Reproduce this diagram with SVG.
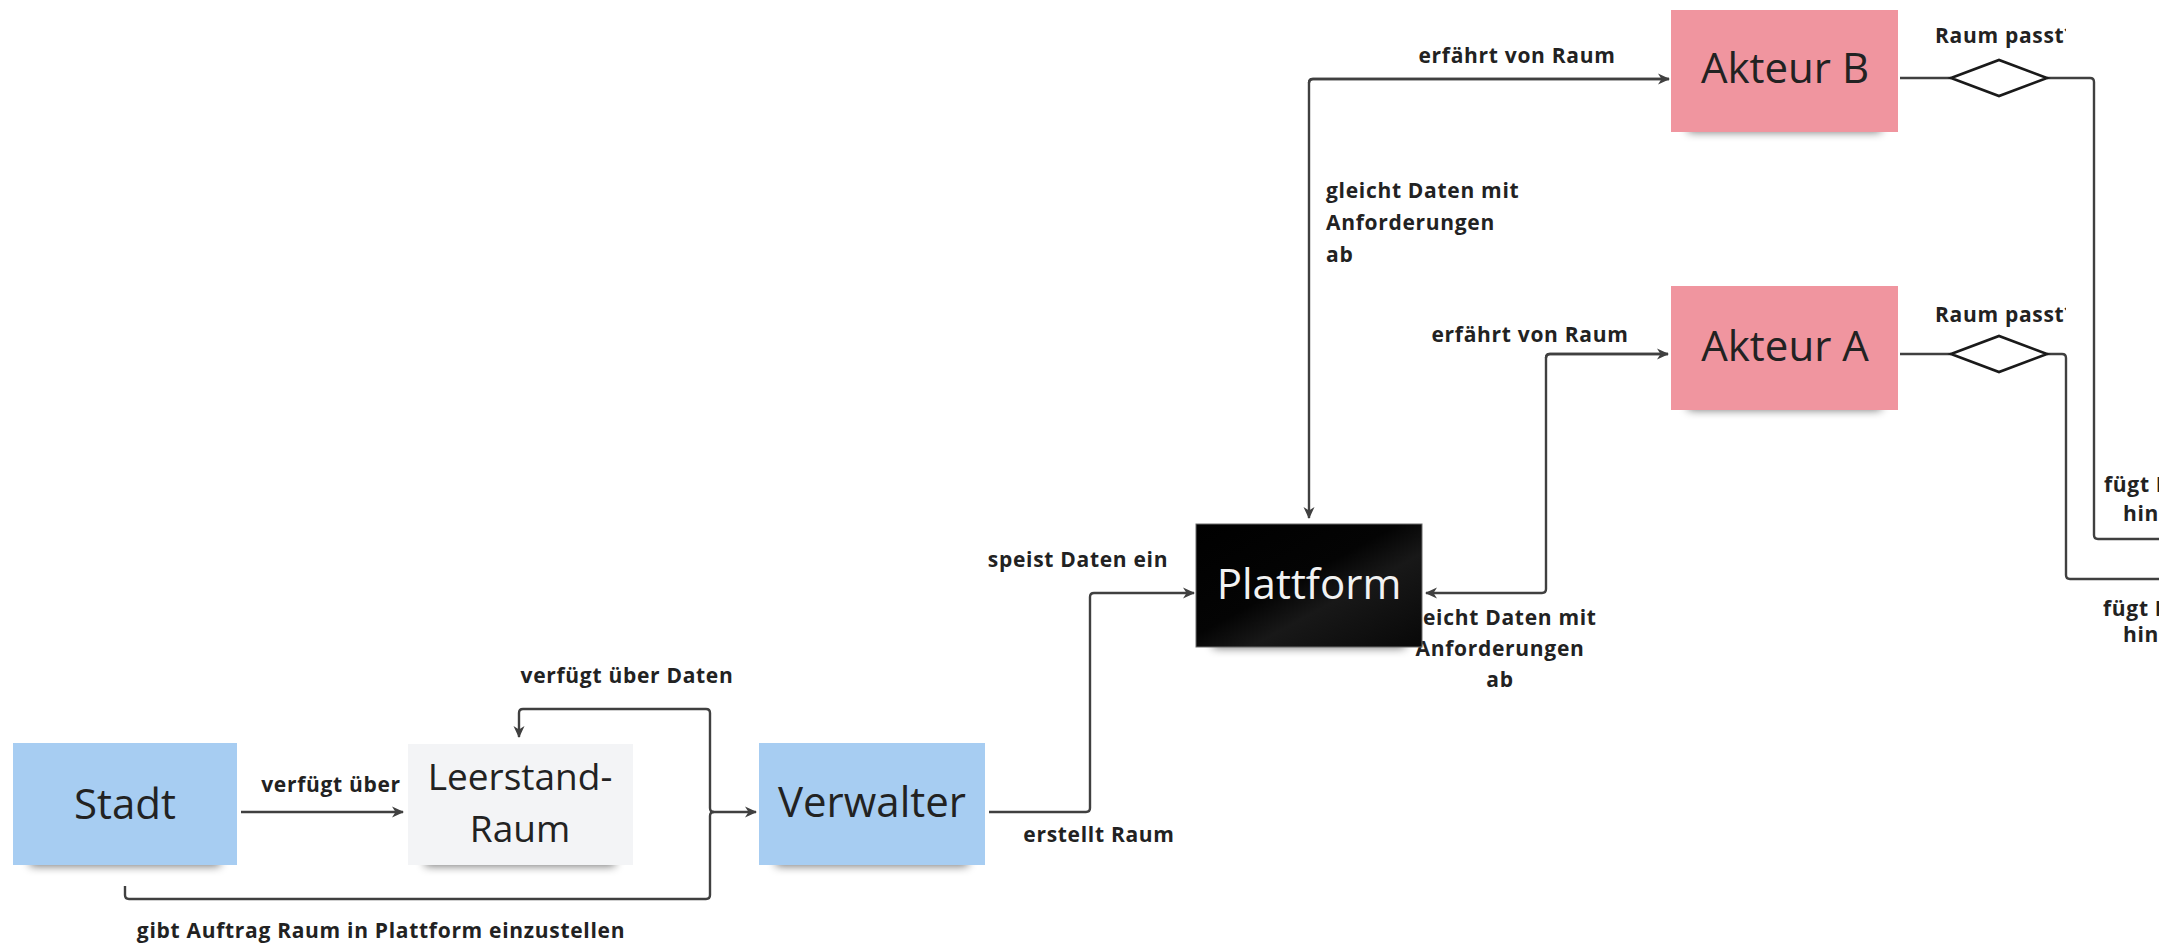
<svg xmlns="http://www.w3.org/2000/svg" width="2159" height="949" viewBox="0 0 2159 949">
  <style>
    .node-text { font-family: "Open Sans", "Liberation Sans", sans-serif; font-size: 42px; font-weight: 400; fill: #222222; text-anchor: middle; }
    .small-node { font-size: 37px; }
    .lbl { font-family: "Open Sans", "Liberation Sans", sans-serif; font-size: 21px; font-weight: 700; fill: #222222; letter-spacing: 0.7px; }
    .mid { text-anchor: middle; }
    .conn { fill: none; stroke: #404040; stroke-width: 2.4; stroke-linejoin: round; }
    .dia { fill: #ffffff; stroke: #1a1a1a; stroke-width: 2.6; }
    .shadow { fill: #000000; opacity: 0.55; filter: url(#blur); }
  </style>
  <defs>
    <filter id="blur" x="-20%" y="-100%" width="140%" height="300%">
      <feGaussianBlur stdDeviation="5"/>
    </filter>
    <marker id="arrow" viewBox="0 0 12 12" markerWidth="12" markerHeight="12" refX="11" refY="6" orient="auto" markerUnits="userSpaceOnUse">
      <path d="M0,0.5 L12,6 L0,11.5 L3.5,6 z" fill="#404040"/>
    </marker>
    <linearGradient id="plat" x1="0" y1="0" x2="1" y2="1">
      <stop offset="0" stop-color="#000000"/>
      <stop offset="0.45" stop-color="#040404"/>
      <stop offset="0.62" stop-color="#181818"/>
      <stop offset="1" stop-color="#080808"/>
    </linearGradient>
    <clipPath id="clipPasst">
      <rect x="1900" y="0" width="166" height="949"/>
    </clipPath>
  </defs>

  <rect x="0" y="0" width="2159" height="949" fill="#ffffff"/>

  <!-- connectors -->
  <g id="connectors">
    <path class="conn" d="M241,812 H403" marker-end="url(#arrow)"/>
    <path class="conn" d="M125,886 V895 Q125,899 129,899 H706 Q710,899 710,895 V816 Q710,812 714,812 H756" marker-end="url(#arrow)"/>
    <path class="conn" d="M714,812 Q710,812 710,808 V713 Q710,709 706,709 H523 Q519,709 519,713 V737" marker-end="url(#arrow)"/>
    <path class="conn" d="M989,812 H1086 Q1090,812 1090,808 V597 Q1090,593 1094,593 H1194" marker-end="url(#arrow)"/>
    <path class="conn" d="M1669,79 H1313 Q1309,79 1309,83 V518" marker-end="url(#arrow)"/>
    <path class="conn" d="M1309,83 Q1309,79 1313,79 H1669" marker-end="url(#arrow)"/>
    <path class="conn" d="M1668,354 H1550 Q1546,354 1546,358 V589 Q1546,593 1542,593 H1426" marker-end="url(#arrow)"/>
    <path class="conn" d="M1546,358 Q1546,354 1550,354 H1668" marker-end="url(#arrow)"/>
    <path class="conn" d="M1900,78 H1951"/>
    <path class="conn" d="M2047,78 H2090 Q2094,78 2094,82 V535 Q2094,539 2098,539 H2159"/>
    <path class="conn" d="M1900,354 H1951"/>
    <path class="conn" d="M2047,354 H2062 Q2066,354 2066,358 V575 Q2066,579 2070,579 H2159"/>

    <text class="lbl mid" x="331" y="792">verfügt über</text>
    <text class="lbl mid" x="627" y="683">verfügt über Daten</text>
    <text class="lbl mid" x="381" y="938">gibt Auftrag Raum in Plattform einzustellen</text>
    <text class="lbl mid" x="1078" y="567">speist Daten ein</text>
    <text class="lbl mid" x="1099" y="842">erstellt Raum</text>
    <text class="lbl mid" x="1517" y="63">erfährt von Raum</text>
    <text class="lbl" x="1326" y="198">gleicht Daten mit</text>
    <text class="lbl" x="1326" y="230">Anforderungen</text>
    <text class="lbl" x="1326" y="262">ab</text>
    <text class="lbl mid" x="1530" y="342">erfährt von Raum</text>
    <text class="lbl mid" x="1500" y="625">gleicht Daten mit</text>
    <text class="lbl mid" x="1500" y="656">Anforderungen</text>
    <text class="lbl mid" x="1500" y="687">ab</text>
    <text class="lbl" x="1935" y="43" clip-path="url(#clipPasst)">Raum passt?</text>
    <text class="lbl" x="1935" y="322" clip-path="url(#clipPasst)">Raum passt?</text>
    <text class="lbl" x="2104" y="492">fügt Raum</text>
    <text class="lbl" x="2123" y="521">hinzu</text>
    <text class="lbl" x="2103" y="616">fügt Raum</text>
    <text class="lbl" x="2123" y="642">hinzu</text>
  </g>

  <!-- decision diamonds -->
  <g id="decision-b">
    <polygon class="dia" points="1951,78 1999,60 2047,78 1999,96"/>
  </g>
  <g id="decision-a">
    <polygon class="dia" points="1951,354 1999,336 2047,354 1999,372"/>
  </g>

  <!-- nodes -->
  <g id="node-stadt">
    <rect class="shadow" x="30" y="848" width="190" height="18"/>
    <rect x="13" y="743" width="224" height="122" fill="#a7cdf2"/>
    <text class="node-text" x="125" y="819">Stadt</text>
  </g>
  <g id="node-leerstand">
    <rect class="shadow" x="425" y="848" width="190" height="18"/>
    <rect x="408" y="744" width="225" height="121" fill="#f3f4f6"/>
    <text class="node-text small-node" x="520" y="790">Leerstand-</text>
    <text class="node-text small-node" x="520" y="842">Raum</text>
  </g>
  <g id="node-verwalter">
    <rect class="shadow" x="776" y="848" width="192" height="18"/>
    <rect x="759" y="743" width="226" height="122" fill="#a7cdf2"/>
    <text class="node-text" x="872" y="817">Verwalter</text>
  </g>
  <g id="node-plattform">
    <rect class="shadow" x="1213" y="630" width="192" height="18"/>
    <rect x="1196" y="524" width="226" height="123" fill="url(#plat)" stroke="#6a6a6a" stroke-width="1"/>
    <text class="node-text" x="1309" y="599" style="fill:#f2f2f2">Plattform</text>
  </g>
  <g id="node-akteur-b">
    <rect class="shadow" x="1688" y="114" width="193" height="18"/>
    <rect x="1671" y="10" width="227" height="122" fill="#f0959f"/>
    <text class="node-text" x="1785" y="83">Akteur B</text>
  </g>
  <g id="node-akteur-a">
    <rect class="shadow" x="1688" y="392" width="193" height="18"/>
    <rect x="1671" y="286" width="227" height="124" fill="#f0959f"/>
    <text class="node-text" x="1785" y="361">Akteur A</text>
  </g>
</svg>
